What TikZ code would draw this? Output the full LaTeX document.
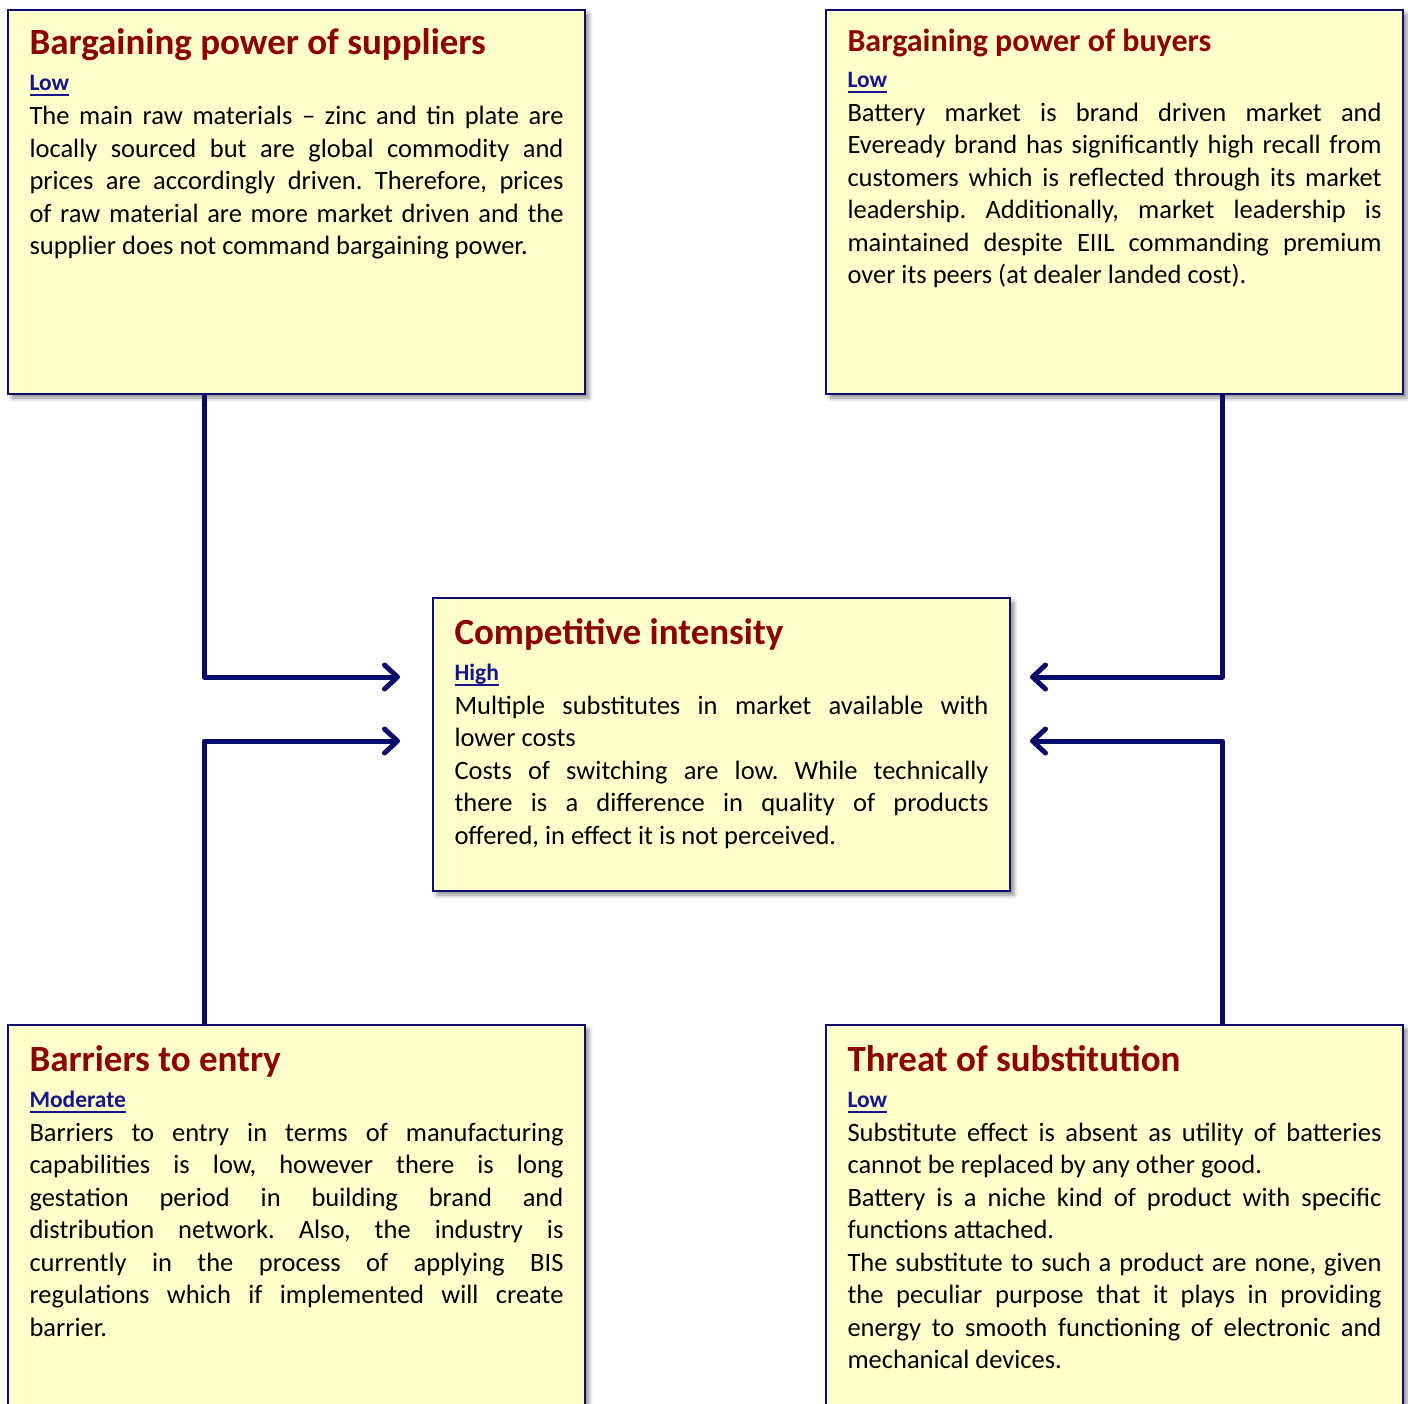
\documentclass[tikz,border=0pt]{standalone}
\usepackage{fontspec}
\setmainfont{Carlito}
\usepackage{tikz}
\usetikzlibrary{arrows.meta,positioning,calc,shadows.blur}

\definecolor{framenavy}{RGB}{14,14,110}
\definecolor{linknavy}{RGB}{10,10,105}
\definecolor{cardfill}{RGB}{255,255,204}
\definecolor{headred}{RGB}{140,0,0}
\definecolor{ratenavy}{RGB}{22,22,140}

\hyphenpenalty=10000
\exhyphenpenalty=10000
\hbadness=10000

\newsavebox{\ratebox}
\newcommand{\cardhead}[2][37]{{\fontsize{#1}{35}\selectfont\bfseries\color{headred}#2\par}}
\newcommand{\rating}[1]{{\fontsize{23.5}{36}\selectfont\bfseries\color{ratenavy}%
  \sbox{\ratebox}{#1}\leavevmode\rlap{\rule[-5.5pt]{\wd\ratebox}{1.8pt}}\usebox{\ratebox}\par}%
  \vskip 1.5pt}

\begin{document}
\begin{tikzpicture}[x=1pt, y=-1pt,
  card/.style={rectangle, draw=framenavy, line width=2.4pt, fill=cardfill,
    anchor=north west, outer sep=0pt, inner xsep=21.5pt, inner ysep=0pt,
    text width=534pt, align=justify,
    font=\fontsize{26.5}{32.5}\selectfont\frenchspacing,
    blur shadow={shadow xshift=4pt, shadow yshift=-4pt,
      shadow blur radius=4pt, shadow opacity=45}},
  link/.style={draw=linknavy, line width=5pt, line join=round,
    -{Straight Barb[length=13pt, width=24pt, round]}}
]
\useasboundingbox (0,0) rectangle (1408,1403);

% the five forces
\node[card, text height=44.5pt, text depth=339.5pt] (supp) at (8,10) {%
  \cardhead{Bargaining power of suppliers}
  \rating{Low}
  The main raw materials – zinc and tin plate are\linebreak
  locally sourced but are global commodity and\linebreak
  prices are accordingly driven. Therefore, prices\linebreak
  of raw material are more market driven and the\linebreak
  supplier does not command bargaining power.};

\node[card, text height=41pt, text depth=343pt] (buyers) at (826,10) {%
  \cardhead[32]{Bargaining power of buyers}
  \rating{Low}
  Battery market is brand driven market and\linebreak
  Eveready brand has significantly high recall from\linebreak
  customers which is reflected through its market\linebreak
  leadership. Additionally, market leadership is\linebreak
  maintained despite EIIL commanding premium\linebreak
  over its peers (at dealer landed cost).};

\node[card, text height=46pt, text depth=247pt] (rivalry) at (433,598) {%
  \cardhead{Competitive intensity}
  \rating{High}
  Multiple substitutes in market available with\linebreak
  lower costs\par
  Costs of switching are low. While technically\linebreak
  there is a difference in quality of products\linebreak
  offered, in effect it is not perceived.};

\node[card, text height=46pt, text depth=370pt] (entry) at (8,1025) {%
  \cardhead{Barriers to entry}
  \rating{Moderate}
  Barriers to entry in terms of manufacturing\linebreak
  capabilities is low, however there is long\linebreak
  gestation period in building brand and\linebreak
  distribution network. Also, the industry is\linebreak
  currently in the process of applying BIS\linebreak
  regulations which if implemented will create\linebreak
  barrier.};

\node[card, text height=46pt, text depth=370pt] (subst) at (826,1025) {%
  \cardhead{Threat of substitution}
  \rating{Low}
  Substitute effect is absent as utility of batteries\linebreak
  cannot be replaced by any other good.\par
  Battery is a niche kind of product with specific\linebreak
  functions attached.\par
  The substitute to such a product are none, given\linebreak
  the peculiar purpose that it plays in providing\linebreak
  energy to smooth functioning of electronic and\linebreak
  mechanical devices.};

% arrow ends beside the middle box
\coordinate (suppIn) at (400,677);
\coordinate (buyersIn) at (1030,677);
\coordinate (entryIn) at (400,741);
\coordinate (substIn) at (1030,741);

\draw[link] ([xshift=196pt]supp.south west) |- (suppIn);
\draw[link] ([xshift=396pt]buyers.south west) |- (buyersIn);
\draw[link] ([xshift=196pt]entry.north west) |- (entryIn);
\draw[link] ([xshift=396pt]subst.north west) |- (substIn);
\end{tikzpicture}
\end{document}
